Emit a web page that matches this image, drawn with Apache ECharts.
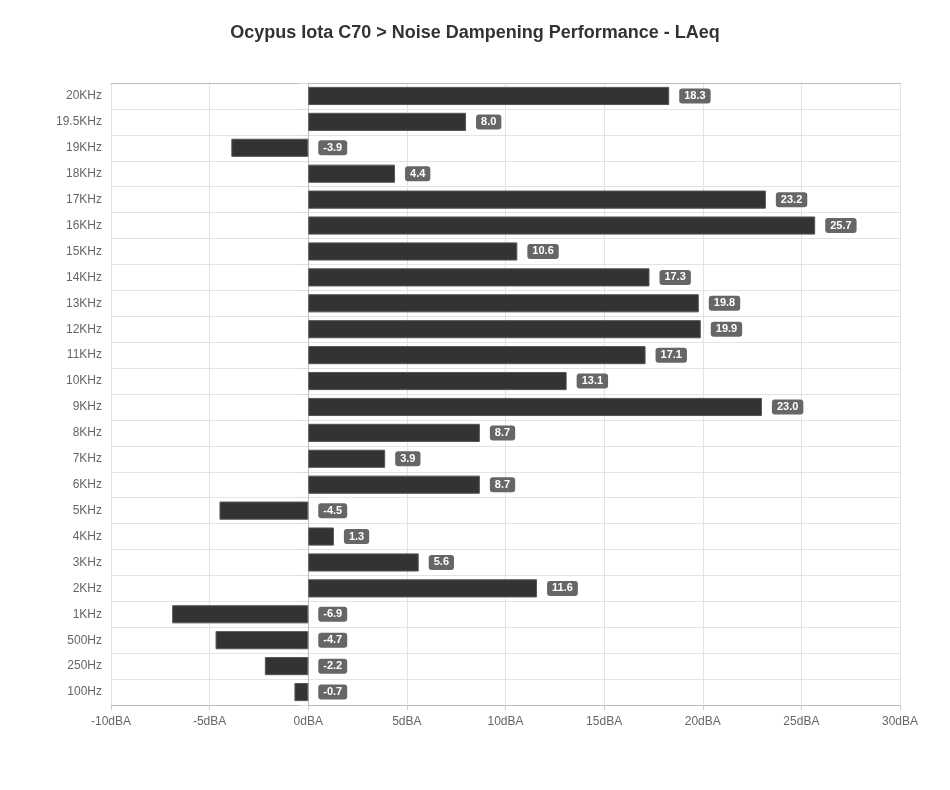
<!DOCTYPE html>
<html>
<head>
<meta charset="utf-8">
<script src="https://cdn.jsdelivr.net/npm/echarts@6/dist/echarts.min.js"></script>
<style>html,body{margin:0;padding:0;background:#fff}#c{width:950px;height:790px}</style>
</head>
<body>
<div id="c"></div>
<script>
var categories = ['20KHz','19.5KHz','19KHz','18KHz','17KHz','16KHz','15KHz','14KHz','13KHz','12KHz','11KHz','10KHz','9KHz','8KHz','7KHz','6KHz','5KHz','4KHz','3KHz','2KHz','1KHz','500Hz','250Hz','100Hz'];
var values = [18.3,8.0,-3.9,4.4,23.2,25.7,10.6,17.3,19.8,19.9,17.1,13.1,23.0,8.7,3.9,8.7,-4.5,1.3,5.6,11.6,-6.9,-4.7,-2.2,-0.7];
var xTicks = [-10,-5,0,5,10,15,20,25,30];

var chart = echarts.init(document.getElementById('c'));
chart.setOption({
  animation: false,
  textStyle: {fontFamily: 'Liberation Sans, Arial, sans-serif'},
  title: {
    text: 'Ocypus Iota C70 > Noise Dampening Performance - LAeq',
    left: 'center', top: 19,
    textStyle: {fontSize: 18, fontWeight: 'bold', color: '#333', fontFamily: 'Liberation Sans, Arial, sans-serif'}
  },
  grid: {left: 111, right: 50, top: 83, bottom: 85},
  xAxis: [{
    type: 'value',
    min: xTicks[0], max: xTicks[xTicks.length-1], interval: 5,
    axisLine: {show: true, lineStyle: {color: '#bbb'}},
    axisTick: {show: true, length: 5, lineStyle: {color: '#ccc'}},
    axisLabel: {color: '#666', fontSize: 12, margin: 11, formatter: function(v){return v + 'dBA';}},
    splitLine: {show: true, lineStyle: {color: '#e3e3e3'}}
  },{
    type: 'value', position: 'top',
    min: xTicks[0], max: xTicks[xTicks.length-1], interval: 5,
    axisLine: {show: true, lineStyle: {color: '#bbb'}},
    axisTick: {show: false}, axisLabel: {show: false}, splitLine: {show: false}
  }],
  yAxis: {
    type: 'category',
    data: categories,
    inverse: true,
    axisLine: {show: true, lineStyle: {color: '#bbb'}},
    axisTick: {show: true, length: 9, lineStyle: {color: '#ddd'}},
    axisLabel: {color: '#666', fontSize: 12, margin: 9},
    splitLine: {show: true, lineStyle: {color: '#e3e3e3'}}
  },
  series: [{
    type: 'bar',
    data: values,
    barCategoryGap: '30%',
    itemStyle: {color: '#333333', borderColor: '#555', borderWidth: 1},
    label: {
      show: true, position: 'right', distance: 10,
      color: '#fff', fontWeight: 'bold', fontSize: 11,
      backgroundColor: '#666', borderRadius: 3, padding: [2, 5, 2, 5],
      formatter: function(p){return p.value.toFixed(1);}
    }
  }]
});
</script>
</body>
</html>
